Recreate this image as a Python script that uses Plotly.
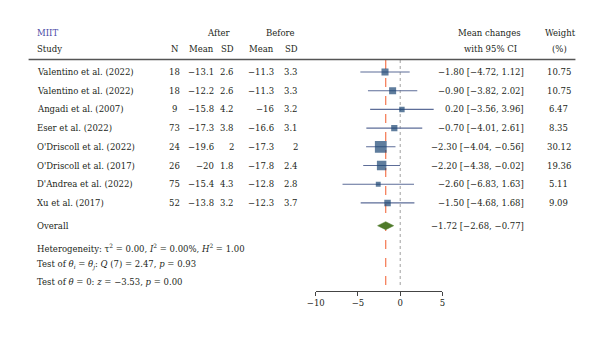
import plotly.graph_objects as go
import math

# ---------------- data ----------------
studies = ["Valentino et al. (2022)", "Valentino et al. (2022)", "Angadi et al. (2007)",
           "Eser et al. (2022)", "O'Driscoll et al. (2022)", "O'Driscoll et al. (2017)",
           "D'Andrea et al. (2022)", "Xu et al. (2017)"]
n_vals = [18, 18, 9, 73, 24, 26, 75, 52]
after_mean = [-13.1, -12.2, -15.8, -17.3, -19.6, -20, -15.4, -13.8]
after_sd = [2.6, 2.6, 4.2, 3.8, 2, 1.8, 4.3, 3.2]
before_mean = [-11.3, -11.3, -16, -16.6, -17.3, -17.8, -12.8, -12.3]
before_sd = [3.3, 3.3, 3.2, 3.1, 2, 2.4, 2.8, 3.7]
effect = [-1.80, -0.90, 0.20, -0.70, -2.30, -2.20, -2.60, -1.50]
ci_low = [-4.72, -3.82, -3.56, -4.01, -4.04, -4.38, -6.83, -4.68]
ci_high = [1.12, 2.02, 3.96, 2.61, -0.56, -0.02, 1.63, 1.68]
weights = [10.75, 10.75, 6.47, 8.35, 30.12, 19.36, 5.11, 9.09]
overall = (-1.72, -2.68, -0.77)
x_ticks = [-10, -5, 0, 5]

# ---------------- layout helpers ----------------
W, H = 600, 338
ROW0, STEP = 72.0, 18.7
AXIS_PX = 290.7
FONT = "DejaVu Serif"
FS = 8.5
TXT = "#231f20"


def row(px):
    return (px - ROW0) / STEP


def xp(px):
    return px / W


def fmt(v):
    return f"{v:g}".replace("-", "\u2212")


def fmt2(v):
    return f"{v:.2f}".replace("-", "\u2212")


fig = go.Figure()

rows = list(range(len(studies)))
sizes = [2.15 * math.sqrt(w) for w in weights]

fig.add_trace(go.Scatter(
    x=effect, y=rows, mode="markers",
    marker=dict(symbol="square", size=sizes, color="#1b4674", line=dict(width=0)),
    error_x=dict(type="data", symmetric=False,
                 array=[h - e for h, e in zip(ci_high, effect)],
                 arrayminus=[e - l for e, l in zip(effect, ci_low)],
                 color="#5d6d98", thickness=1.1, width=0),
    hoverinfo="skip", showlegend=False))

ov_row = row(225.7)
dh = 4.0 / STEP
est, lo, hi = overall
fig.add_trace(go.Scatter(
    x=[lo, est, hi, est, lo], y=[ov_row, ov_row - dh, ov_row, ov_row + dh, ov_row],
    mode="lines", fill="toself", fillcolor="#4f7a2a", line=dict(color="#4f7a2a", width=0.5),
    hoverinfo="skip", showlegend=False))

# reference lines
top_line = row(60)
bot_line = row(288)
fig.add_shape(type="line", x0=est, x1=est, y0=top_line, y1=bot_line, xref="x", yref="y",
              line=dict(color="#f5815c", width=1.3, dash="dash"), layer="below")
fig.add_shape(type="line", x0=0, x1=0, y0=top_line, y1=bot_line, xref="x", yref="y",
              line=dict(color="#a8a8a8", width=1.1, dash="dot"), layer="below")
# header rule
fig.add_shape(type="line", x0=xp(20), x1=xp(578), y0=row(59.5), y1=row(59.5),
              xref="paper", yref="y", line=dict(color="#555555", width=1.3))

ann = []


def text(x_px, y_row, s, anchor="left", color=TXT, size=FS):
    ann.append(dict(x=xp(x_px), y=y_row, xref="paper", yref="y", text=s, showarrow=False,
                    xanchor=anchor, yanchor="middle", font=dict(family=FONT, size=size, color=color)))


# headers
text(27, row(33), "MIIT", color="#4a4aa6")
text(214, row(33), "After", "center")
text(277, row(33), "Before", "center")
text(490, row(33), "Mean changes", "center")
text(563, row(33), "Weight", "center")
text(27, row(49), "Study")
text(169, row(49), "N", "center")
text(211, row(49), "Mean", "right")
text(232, row(49), "SD", "right")
text(272, row(49), "Mean", "right")
text(297, row(49), "SD", "right")
text(491, row(49), "with 95% CI", "center")
text(562, row(49), "(%)", "center")

for i in rows:
    text(27, i, studies[i])
    text(169, i, str(n_vals[i]), "center")
    text(211, i, fmt(after_mean[i]), "right")
    text(232, i, fmt(after_sd[i]), "right")
    text(272, i, fmt(before_mean[i]), "right")
    text(297, i, fmt(before_sd[i]), "right")
    text(528, i, f"{fmt2(effect[i])} [{fmt2(ci_low[i])}, {fmt2(ci_high[i])}]", "right")
    text(561, i, f"{weights[i]:.2f}", "center")

text(27, ov_row, "Overall")
text(528, ov_row, f"{fmt2(est)} [{fmt2(lo)}, {fmt2(hi)}]", "right")
text(27, row(247.5), "Heterogeneity: τ<sup>2</sup> = 0.00, <i>I</i><sup>2</sup> = 0.00%, <i>H</i><sup>2</sup> = 1.00")
text(27, row(264.5), "Test of <i>θ<sub>i</sub></i> = <i>θ<sub>j</sub></i>: <i>Q</i> (7) = 2.47, <i>p</i> = 0.93")
text(27, row(282), "Test of <i>θ</i> = 0: <i>z</i> = \u22123.53, <i>p</i> = 0.00")

fig.update_layout(
    width=W, height=H, margin=dict(l=0, r=0, t=0, b=0),
    paper_bgcolor="white", plot_bgcolor="white",
    font=dict(family=FONT, size=FS, color=TXT),
    annotations=ann,
    xaxis=dict(domain=[xp(313), xp(442.3)], range=[-10, 5], showgrid=False, zeroline=False,
               showline=True, linecolor="#444444", linewidth=1.2, ticks="outside", ticklen=4,
               tickcolor="#444444", tickwidth=1.2,
               tickvals=x_ticks, ticktext=[fmt(t) for t in x_ticks],
               tickfont=dict(family=FONT, size=FS, color=TXT), fixedrange=True),
    yaxis=dict(domain=[1 - AXIS_PX / H, 1], range=[row(AXIS_PX), row(0)], visible=False,
               fixedrange=True),
)

fig.write_html("out.html")
